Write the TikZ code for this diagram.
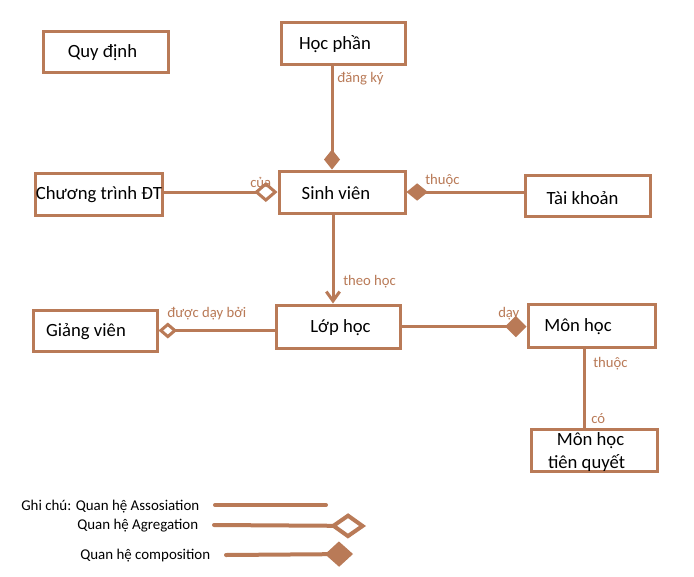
\documentclass[tikz,border=0pt]{standalone}
\usepackage{fontspec}
\setmainfont{Carlito}
\usetikzlibrary{arrows.meta,calc}
\definecolor{brn}{RGB}{185,122,87}
\begin{document}
\begin{tikzpicture}[x=0.75pt,y=-0.75pt,
  box/.style={draw=brn,line width=2.25pt,fill=white,rectangle,inner sep=0pt},
  txt/.style={font=\fontsize{14}{16}\selectfont,text=black,inner sep=0pt},
  lbl/.style={font=\fontsize{11}{13}\selectfont,text=brn,inner sep=0pt,anchor=west},
  leg/.style={font=\fontsize{11.2}{13}\selectfont,text=black,inner sep=0pt,anchor=west},
  conn/.style={draw=brn,line width=2.25pt},
  legline/.style={draw=brn,line width=3pt,line cap=round}]
\useasboundingbox (0,0) rectangle (694,576);
\fill[white] (0,0) rectangle (694,576);

% boxes
\node[box,minimum width=93.75pt,minimum height=30.75pt] (qd) at (105.5,51.5) {};
\node[txt] at (102.5,53) {Quy định};
\node[box,minimum width=93pt,minimum height=31.5pt] (hp) at (343,43) {};
\node[txt] at (335,44) {Học phần};
\node[box,minimum width=95.25pt,minimum height=31.5pt] (ct) at (98.5,194) {};
\node[txt] at (99,195) {Chương trình ĐT};
\node[box,minimum width=94.5pt,minimum height=31.5pt] (sv) at (342,192) {};
\node[txt] at (336,193) {Sinh viên};
\node[box,minimum width=93.75pt,minimum height=30.75pt] (tk) at (587.5,195.5) {};
\node[txt] at (582.5,198) {Tài khoản};
\node[box,minimum width=93pt,minimum height=30.75pt] (gv) at (95,330.5) {};
\node[txt] at (86,332) {Giảng viên};
\node[box,minimum width=93pt,minimum height=32.25pt] (lh) at (338,326.5) {};
\node[txt] at (340.5,328) {Lớp học};
\node[box,minimum width=95.25pt,minimum height=32.25pt] (mh) at (591.5,325.5) {};
\node[txt] at (578,327) {Môn học};
\node[box,minimum width=94.5pt,minimum height=31.5pt] (mq) at (594,450) {};
\node[txt] at (590.5,441) {Môn học};
\node[txt] at (586.5,463) {tiên quyết};

% connectors
\coordinate (hpx) at ($(hp.south)+(-11,0)$);
\draw[conn,-{Diamond[length=15pt,width=12pt,fill=brn]}] (hpx) -- (hpx |- sv.north);
\node[lbl] at (337,79) {đăng ký};

\draw[conn,-{Diamond[open,length=17.5pt,width=15pt,fill=white]}] (sv.west -| ct.east) -- (sv.west);
\node[lbl] at (250,182) {của};

\draw[conn,-{Diamond[length=16pt,width=13pt,fill=brn]}] (sv.east -| tk.west) -- (sv.east);
\node[lbl] at (425,181) {thuộc};

\coordinate (svx) at ($(sv.south)+(-9,0)$);
\draw[conn,-{Straight Barb[length=7pt,width=10pt,line width=2.25pt]}] (svx) -- (svx |- lh.north);
\node[lbl] at (343,282) {theo học};

\draw[conn,{Diamond[open,length=14pt,width=12pt,fill=white]}-] (gv.east) -- (gv.east -| lh.west);
\node[lbl] at (167,314) {được dạy bởi};

\draw[conn,-{Diamond[length=16pt,width=16pt,fill=brn]}] (lh.east) -- (lh.east -| mh.west);
\node[lbl] at (498,314) {dạy};

\coordinate (mhx) at ($(mh.south)+(-7.5,0)$);
\draw[conn] (mhx) -- (mhx |- mq.north);
\node[lbl] at (593,364) {thuộc};
\node[lbl] at (591,419) {có};

% legend
\node[leg] (l1) at (21,507) {Ghi chú: Quan hệ Assosiation};
\node[leg] (l2) at (77,526) {Quan hệ Agregation};
\node[leg] (l3) at (80,556) {Quan hệ composition};
\coordinate (a1) at (215,505); \coordinate (a2) at (326,505);
\draw[legline] (a1) -- (a2);
\coordinate (b1) at (214,525); \coordinate (b2) at (366,526);
\draw[legline,-{Diamond[open,length=27pt,width=19pt,fill=white,line cap=butt]}] (b1) -- (b2);
\coordinate (c1) at (226,555); \coordinate (c2) at (353,554);
\draw[legline,-{Diamond[length=21pt,width=19pt,fill=brn]}] (c1) -- (c2);
\end{tikzpicture}
\end{document}
